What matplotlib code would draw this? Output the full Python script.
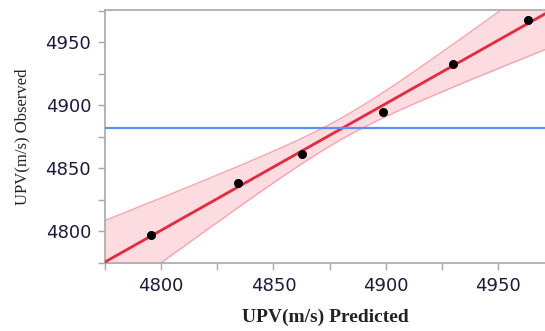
import numpy as np
import matplotlib
matplotlib.use("Agg")
import matplotlib.pyplot as plt
from matplotlib.ticker import MultipleLocator

# Data
predicted = [4795.5, 4834.3, 4862.8, 4898.9, 4930.1, 4963.5]
observed = [4797.1, 4838.0, 4861.1, 4894.4, 4932.5, 4967.5]
x_ticks = [4800, 4850, 4900, 4950]
y_ticks = [4800, 4850, 4900, 4950]
x_label = "UPV(m/s) Predicted"
y_label = "UPV(m/s) Observed"
# confidence band shape (half-width at centre, growth per unit x)
band_center_halfwidth = 8.5
band_slope = 0.3

x = np.array(predicted)
y = np.array(observed)
b1, b0 = np.polyfit(x, y, 1)

xlim = (4775, 4971)
ylim = (4774.6, 4975.4)
xs = np.linspace(xlim[0], xlim[1], 300)
fit = b0 + b1 * xs
half = np.sqrt(band_center_halfwidth**2 + (band_slope * (xs - x.mean()))**2)

fig = plt.figure(figsize=(5.45, 3.31), dpi=100)
ax = fig.add_axes([0.1927, 0.2054, 0.8073, 0.7644])

ax.fill_between(xs, fit - half, fit + half, color="#fcdce0", zorder=1, lw=0)
ax.plot(xs, fit + half, color="#f8a4ad", lw=1, zorder=2)
ax.plot(xs, fit - half, color="#f8a4ad", lw=1, zorder=2)
ax.plot(xs, fit, color="#e8283c", lw=2, zorder=3)
ax.axhline(y.mean(), color="#5b8ff0", lw=1.6, zorder=3)
ax.plot(x, y, "o", color="black", ms=5.5, zorder=4)

ax.set_xlim(*xlim)
ax.set_ylim(*ylim)
ax.set_xticks(x_ticks)
ax.set_yticks(y_ticks)
ax.xaxis.set_minor_locator(MultipleLocator(25))
ax.yaxis.set_minor_locator(MultipleLocator(25))

for sp in ["left", "bottom", "top"]:
    ax.spines[sp].set_color("#a8a8a8")
    ax.spines[sp].set_linewidth(1.2)
ax.spines["right"].set_visible(False)

ax.tick_params(which="both", direction="out", color="#a8a8a8", length=5, width=1)
ax.tick_params(which="major", labelsize=13, labelcolor="#1a1a40", pad=5)
for lab in ax.get_xticklabels() + ax.get_yticklabels():
    lab.set_family("DejaVu Sans")

ax.set_xlabel(x_label, family="Liberation Serif", fontweight="bold", fontsize=14, labelpad=10, color="#222222")
ax.set_ylabel(y_label, family="Liberation Serif", fontsize=12, labelpad=11, color="#222222")

fig.savefig("out.png", dpi=100)
